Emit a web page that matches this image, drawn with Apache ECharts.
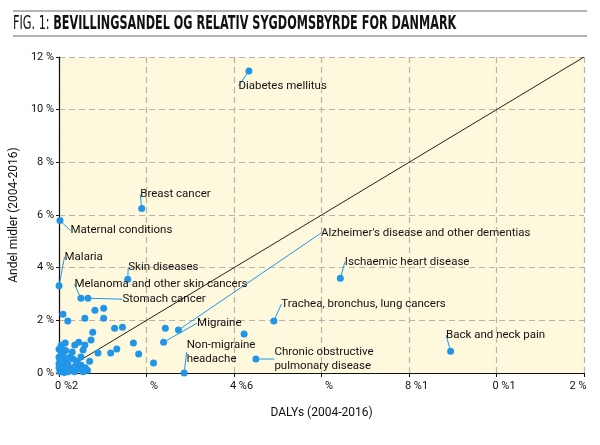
<!DOCTYPE html>
<html><head><meta charset="utf-8">
<script src="https://cdn.jsdelivr.net/npm/echarts@6/dist/echarts.min.js"></script>
<style>html,body{margin:0;padding:0;background:#fff}#c{width:600px;height:445px}</style>
</head><body><div id="c"></div>
<script>
// ---- data ----
const titlePrefix = 'FIG. 1: ';
const titleMain = 'BEVILLINGSANDEL OG RELATIV SYGDOMSBYRDE FOR DANMARK';
const xAxisName = 'DALYs (2004-2016)';
const yAxisName = 'Andel midler (2004-2016)';
const xTickLabels = ['0 %2', '%', '4 %6', '%', '8 %1', '0 %1', '2 %'];
const yTickValues = [0, 2, 4, 6, 8, 10, 12];

const labelledNames = ['Diabetes mellitus', 'Breast cancer', 'Maternal conditions', 'Malaria',
  'Skin diseases', 'Melanoma and other skin cancers', 'Stomach cancer',
  "Alzheimer's disease and other dementias", 'Ischaemic heart disease',
  'Trachea, bronchus, lung cancers', 'Migraine', 'Non-migraine\nheadache',
  'Chronic obstructive\npulmonary disease', 'Back and neck pain'];
const labelledX = [4.34, 1.89, 0.02, 0.00, 1.57, 0.50, 0.66, 2.73, 6.43, 4.91, 2.39, 2.86, 4.50, 8.95];
const labelledY = [11.47, 6.25, 5.79, 3.31, 3.56, 2.84, 2.84, 1.63, 3.60, 1.97, 1.17, 0.00, 0.53, 0.83];

const otherX = [0.09, 0.20, 0.59, 0.82, 1.02, 1.02, 0.77, 1.27, 1.45, 1.70, 1.82, 2.16, 1.18, 1.32, 0.89,
  0.59, 0.73, 0.45, 0.36, 0.14, 0.05, 0.55, 0.50, 0.70, 0.32, 2.43, 4.23,
  0.00, 0.05, 0.00, 0.10, 0.02, 0.15, 0.05, 0.20, 0.00, 0.10, 0.25, 0.30, 0.02, 0.12, 0.35,
  0.45, 0.40, 0.55, 0.60, 0.50, 0.20, 0.08, 0.25, 0.15, 0.30, 0.00, 0.40, 0.65, 0.18, 0.05];
const otherY = [2.23, 1.97, 2.08, 2.38, 2.46, 2.08, 1.55, 1.70, 1.74, 1.14, 0.72, 0.38, 0.76, 0.91, 0.76,
  1.06, 1.25, 1.17, 1.06, 1.14, 0.98, 0.87, 0.61, 0.45, 0.53, 1.70, 1.48,
  0.90, 0.75, 0.60, 0.65, 0.45, 0.50, 0.30, 0.35, 0.20, 0.15, 0.20, 0.10, 0.05, 0.02, 0.05,
  0.15, 0.30, 0.05, 0.20, 0.30, 0.05, 0.40, 0.60, 0.85, 0.80, 0.35, 0.45, 0.10, 0.25, 1.05];

// ---- styling ----
const BLUE = '#2196E8';
const FONT = 'Roboto, "Liberation Sans", sans-serif';
const TFONT = '"DejaVu Sans", sans-serif';
// label offsets (pixels) relative to the default right-side label
const labelOffsets = [[-14, 15], [-5, -14], [7, 10], [2, -29], [-3, -12], [-10, -14], [31, 1],
  [139, -97], [1, -16], [4, -17], [30, -19], [-1, -21], [15, 0], [-8, -16]];

const chart = echarts.init(document.getElementById('c'), null, {renderer: 'canvas'});
chart.setOption({
  animation: false,
  backgroundColor: '#fff',
  graphic: [
    {type: 'line', shape: {x1: 13, y1: 11, x2: 587, y2: 11}, style: {stroke: '#9a9a9a', lineWidth: 1.5}},
    {type: 'line', shape: {x1: 13, y1: 36, x2: 587, y2: 36}, style: {stroke: '#9a9a9a', lineWidth: 1.5}},
    {
      type: 'text', x: 13, y: 24, scaleX: 0.592, scaleY: 1,
      style: {
        text: '{a|' + titlePrefix + '}{b|' + titleMain + '}',
        verticalAlign: 'middle', align: 'left',
        rich: {
          a: {fontFamily: TFONT, fontSize: 19, fill: '#111', fontWeight: 'normal'},
          b: {fontFamily: TFONT, fontSize: 19, fill: '#111', fontWeight: 'bold'}
        }
      }
    }
  ],
  grid: {left: 56, right: 16, top: 57, bottom: 72, show: true, backgroundColor: '#FEF8DC', borderWidth: 0},
  xAxis: {
    type: 'value', min: 0, max: 12, interval: 2,
    name: xAxisName, nameLocation: 'middle', nameGap: 34,
    nameTextStyle: {fontFamily: FONT, fontSize: 12, color: '#111'},
    axisLine: {show: true, onZero: false, lineStyle: {color: '#111', width: 1.2}},
    axisTick: {show: true, length: 4, lineStyle: {color: '#111'}},
    splitLine: {show: true, lineStyle: {color: '#B8B3AC', type: [6, 4], width: 1.2}},
    axisLabel: {
      margin: 8, fontFamily: FONT, fontSize: 11, color: '#111',
      formatter: function (v) {
        const i = Math.round(v / 2);
        const t = xTickLabels[i] || '';
        return i === xTickLabels.length - 1 ? '{e|' + t + '}' : '{s|' + t + '}';
      },
      rich: {
        s: {fontFamily: FONT, fontSize: 11, color: '#111', padding: [0, 0, 0, 15]},
        e: {fontFamily: FONT, fontSize: 11, color: '#111', padding: [0, 12, 0, 0]}
      }
    }
  },
  yAxis: {
    type: 'value', min: 0, max: 12, interval: 2,
    name: yAxisName, nameLocation: 'middle', nameGap: 31, nameRotate: 90,
    nameTextStyle: {fontFamily: FONT, fontSize: 12, color: '#111'},
    axisLine: {show: true, onZero: false, lineStyle: {color: '#111', width: 1.2}},
    axisTick: {show: true, length: 3, lineStyle: {color: '#111'}},
    splitLine: {show: true, lineStyle: {color: '#B8B3AC', type: [6, 4], width: 1.2}},
    axisLabel: {margin: 5, fontFamily: FONT, fontSize: 11, color: '#111', formatter: v => v + ' %'}
  },
  series: [
    {
      type: 'line', data: [[0, 0], [12, 12]], symbol: 'none', silent: true,
      lineStyle: {color: '#222', width: 1}, z: 1
    },
    {
      type: 'scatter', symbolSize: 7, itemStyle: {color: BLUE, opacity: 1}, z: 3,
      data: otherX.map((x, i) => [x, otherY[i]])
    },
    {
      type: 'scatter', symbolSize: 7, itemStyle: {color: BLUE, opacity: 1}, z: 4,
      data: labelledNames.map((n, i) => ({name: n, value: [labelledX[i], labelledY[i]]})),
      label: {
        show: true, position: 'right', distance: 0, formatter: p => p.name,
        fontFamily: FONT, fontSize: 11.5, color: '#111', lineHeight: 14, align: 'left', verticalAlign: 'middle'
      },
      labelLine: {show: true, lineStyle: {color: BLUE, width: 1}},
      labelLayout: function (p) {
        const o = labelOffsets[p.dataIndex] || [0, 0];
        return {dx: o[0], dy: o[1]};
      }
    }
  ]
});
</script></body></html>
